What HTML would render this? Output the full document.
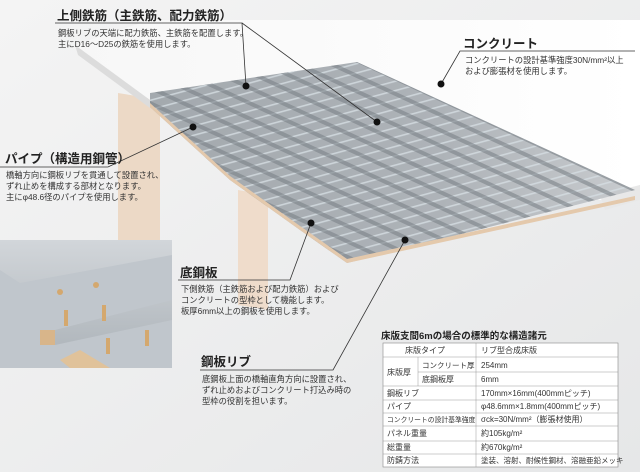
<!DOCTYPE html>
<html><head><meta charset="utf-8"><style>
html,body{margin:0;padding:0;}
body{width:640px;height:472px;overflow:hidden;background:#eeeff0;font-family:"Liberation Sans","Noto Sans CJK JP",sans-serif;}
svg{display:block}
text{font-family:"Liberation Sans","Noto Sans CJK JP",sans-serif;fill:#222}
.t{font-size:12.5px;font-weight:bold}
.d{font-size:8.3px;fill:#333}
.tb{font-size:8px;fill:#333}
</style></head><body>
<svg width="640" height="472" viewBox="0 0 640 472">
<defs>
<linearGradient id="bg" x1="0" y1="0" x2="1" y2="1"><stop offset="0" stop-color="#f4f4f4"/><stop offset="1" stop-color="#e6e7e8"/></linearGradient>
<linearGradient id="slab" x1="0" y1="0" x2="1" y2="0"><stop offset="0" stop-color="#f7f7f7"/><stop offset="1" stop-color="#ffffff"/></linearGradient>
<linearGradient id="grid" x1="0" y1="0" x2="1" y2="0"><stop offset="0" stop-color="#a3a9ae"/><stop offset="0.6" stop-color="#aeb3b8"/><stop offset="1" stop-color="#c8cbce"/></linearGradient>
<linearGradient id="ins" x1="0" y1="0" x2="0" y2="1"><stop offset="0" stop-color="#d2d6da"/><stop offset="1" stop-color="#aab1b7"/></linearGradient>
<pattern id="ribs" width="14" height="14" patternUnits="userSpaceOnUse" patternTransform="rotate(25)"><rect x="0" y="0" width="14" height="4" fill="#7b8288"/></pattern>
<pattern id="bars" width="9" height="9" patternUnits="userSpaceOnUse" patternTransform="rotate(-15)"><rect y="0" width="9" height="1.6" fill="#d5dde2"/></pattern>
</defs>
<rect width="640" height="472" fill="url(#bg)"/>
<polygon points="118,93 160,100 160,245 118,240" fill="#ecd9c6"/>
<polygon points="238,190 268,195 268,310 238,305" fill="#efdccb"/>
<polygon points="75,45 150,20 640,20 640,185 600,200 150,100" fill="url(#slab)"/>
<polygon points="75,45 150,100 150,108 78,55" fill="#dcdcdc"/>
<polygon points="600,195 640,185 640,200 605,210" fill="#e8e8e8"/>
<polygon points="150,93 357,62 635,190 347,263 300,230 230,180 150,107" fill="url(#grid)"/>
<polygon points="150,93 357,62 635,190 347,263 300,230 230,180 150,107" fill="url(#bars)" opacity="0.8"/>
<polygon points="150,93 357,62 635,190 347,263 300,230 230,180 150,107" fill="url(#ribs)" opacity="0.6"/>
<polygon points="150,107 230,180 300,230 347,263 635,200 635,196 347,259 300,226 230,176 150,103" fill="#e4c9ac"/>
<rect x="0" y="240" width="172" height="128" fill="url(#ins)"/>
<polygon points="0,270 20,283 172,255 172,300 55,330 55,345 172,320 172,368 0,368" fill="#c0c6cc"/>
<polygon points="40,330 55,330 55,345 40,345" fill="#d8b58a"/>
<polygon points="60,360 70,368 110,368 80,350" fill="#e0c29a"/>
<g fill="#d4a86e"><rect x="64" y="310" width="4" height="16"/><rect x="102" y="305" width="4" height="16"/><rect x="106" y="338" width="4" height="16"/><rect x="145" y="330" width="4" height="16"/><circle cx="60" cy="292" r="3"/><circle cx="96" cy="285" r="3"/></g>
<g stroke="#333" stroke-width="0.8" fill="none">
<polyline points="55,23 242,23 246,86"/>
<line x1="242" y1="23" x2="377" y2="122"/>
<polyline points="635,51 460,51 441,84"/>
<polyline points="0,167 108,167 193,127"/>
<polyline points="178,280 290,280 311,223"/>
<polyline points="200,370 333,370 405,240"/>
</g>
<g fill="#111"><circle cx="246" cy="86" r="3.5"/><circle cx="377" cy="122" r="3.5"/><circle cx="441" cy="84" r="3.5"/><circle cx="193" cy="127" r="3.5"/><circle cx="311" cy="223" r="3.5"/><circle cx="405" cy="240" r="3.5"/></g>
<text class="t" x="57" y="20">上側鉄筋（主鉄筋、配力鉄筋）</text>
<text class="d" x="58" y="36">鋼板リブの天端に配力鉄筋、主鉄筋を配置します。</text>
<text class="d" x="58" y="47">主にD16～D25の鉄筋を使用します。</text>
<text class="t" x="463" y="48">コンクリート</text>
<text class="d" x="465" y="63">コンクリートの設計基準強度30N/mm²以上</text>
<text class="d" x="465" y="74">および膨張材を使用します。</text>
<text class="t" x="5" y="163">パイプ（構造用鋼管）</text>
<text class="d" x="6" y="178">橋軸方向に鋼板リブを貫通して設置され、</text>
<text class="d" x="6" y="189">ずれ止めを構成する部材となります。</text>
<text class="d" x="6" y="200">主にφ48.6径のパイプを使用します。</text>
<text class="t" x="180" y="277">底鋼板</text>
<text class="d" x="181" y="292">下側鉄筋（主鉄筋および配力鉄筋）および</text>
<text class="d" x="181" y="303">コンクリートの型枠として機能します。</text>
<text class="d" x="181" y="314">板厚6mm以上の鋼板を使用します。</text>
<text class="t" x="201" y="366">鋼板リブ</text>
<text class="d" x="202" y="382">底鋼板上面の橋軸直角方向に設置され、</text>
<text class="d" x="202" y="393">ずれ止めおよびコンクリート打込み時の</text>
<text class="d" x="202" y="404">型枠の役割を担います。</text>
<text x="381" y="339" style="font-size:9.5px;font-weight:bold">床版支間6mの場合の標準的な構造諸元</text>
<rect x="383" y="343" width="235" height="124" fill="#fff" stroke="#888" stroke-width="0.6"/>
<g stroke="#999" stroke-width="0.5">
<line x1="383" y1="357" x2="618" y2="357"/>
<line x1="418" y1="372" x2="618" y2="372"/>
<line x1="383" y1="386" x2="618" y2="386"/>
<line x1="383" y1="400" x2="618" y2="400"/>
<line x1="383" y1="413" x2="618" y2="413"/>
<line x1="383" y1="426" x2="618" y2="426"/>
<line x1="383" y1="441" x2="618" y2="441"/>
<line x1="383" y1="454" x2="618" y2="454"/>
<line x1="476" y1="343" x2="476" y2="467"/>
<line x1="418" y1="357" x2="418" y2="386"/>
</g>
<g class="tb">
<text class="tb" x="405" y="353">床版タイプ</text><text class="tb" x="481" y="353">リブ型合成床版</text>
<text class="tb" x="387" y="375">床版厚</text>
<text class="tb" x="422" y="368" style="font-size:7.5px">コンクリート厚</text><text class="tb" x="481" y="368">254mm</text>
<text class="tb" x="422" y="382">底鋼板厚</text><text class="tb" x="481" y="382">6mm</text>
<text class="tb" x="387" y="396">鋼板リブ</text><text class="tb" x="481" y="396">170mm×16mm(400mmピッチ)</text>
<text class="tb" x="387" y="409">パイプ</text><text class="tb" x="481" y="409">φ48.6mm×1.8mm(400mmピッチ)</text>
<text class="tb" x="387" y="422" style="font-size:6.8px">コンクリートの設計基準強度</text><text class="tb" x="481" y="422">σck=30N/mm²（膨張材使用）</text>
<text class="tb" x="387" y="436">パネル重量</text><text class="tb" x="481" y="436">約105kg/m²</text>
<text class="tb" x="387" y="450">総重量</text><text class="tb" x="481" y="450">約670kg/m²</text>
<text class="tb" x="387" y="463">防錆方法</text><text class="tb" x="481" y="463" style="font-size:7.5px">塗装、溶射、耐候性鋼材、溶融亜鉛メッキ</text>
</g>
</svg>
</body></html>
